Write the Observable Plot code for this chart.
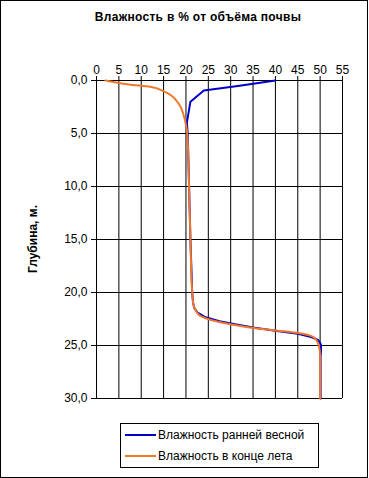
<!DOCTYPE html>
<html>
<head>
<meta charset="utf-8">
<script src="https://cdn.jsdelivr.net/npm/d3@7"></script>
<script src="https://cdn.jsdelivr.net/npm/@observablehq/plot@0.6"></script>
<style>
  html, body { margin: 0; padding: 0; background: #fff; }
  #wrap { position: relative; width: 369px; height: 478px; font-family: "Liberation Sans", Arial, sans-serif; }
  #border { position: absolute; left: 0; top: 0; width: 366px; height: 476px; border: 1px solid #000; pointer-events: none; }
  #title { position: absolute; left: 0; width: 396px; top: 10px; text-align: center; font-weight: bold; font-size: 12px; letter-spacing: 0.3px; color: #000; }
  #ylab { position: absolute; left: 33px; top: 239px; transform: translate(-50%, -50%) rotate(-90deg); font-weight: bold; font-size: 12px; white-space: nowrap; }
  #legend { position: absolute; left: 120px; top: 423px; width: 197px; height: 43px; border: 1px solid #000; background: #fff; font-size: 12px; }
  .li { position: absolute; left: 4px; height: 14px; display: flex; align-items: center; white-space: nowrap; }
  .sw { width: 31px; height: 2px; margin-right: 2px; }
  svg { position: absolute; left: 0; top: 0; }
</style>
</head>
<body>
<div id="wrap">
  <div id="chart"></div>
  <div id="title">Влажность в % от объёма почвы</div>
  <div id="ylab">Глубина, м.</div>
  <div id="legend">
    <div class="li" style="top:4px"><div class="sw" style="background:#0000c8"></div>Влажность ранней весной</div>
    <div class="li" style="top:25px"><div class="sw" style="background:#f07828"></div>Влажность в конце лета</div>
  </div>
  <div id="border"></div>
</div>
<script>
const xTicks = [0, 5, 10, 15, 20, 25, 30, 35, 40, 45, 50, 55];
const yTicks = [0, 5, 10, 15, 20, 25, 30];

const springDepth = [0, 0.5, 0.95, 2.0, 4.0, 5, 10, 15, 20, 21, 21.5, 21.9, 22.3, 22.7, 23, 23.3, 23.6, 23.9, 24.2, 24.5, 24.9, 25.5, 26, 30];
const springMoist = [40, 32, 24, 21, 20.2, 20.4, 20.7, 21, 21.4, 21.6, 21.9, 22.6, 24.2, 27.5, 31, 35, 40, 45, 48, 49.6, 50.2, 50.2, 50.1, 50.1];

const summerDepth = [0, 0.4, 0.6, 1.1, 2.2, 3.3, 4.4, 5, 10, 15, 20, 21.2, 21.7, 22.2, 23, 23.4, 23.8, 24.2, 24.6, 25, 26, 30];
const summerMoist = [2, 7.6, 12, 15.4, 18.4, 19.5, 20.1, 20.3, 20.7, 21, 21.4, 21.7, 22.2, 23.2, 29.9, 35.9, 44.8, 48.5, 49.3, 49.7, 50, 50];

const spring = springDepth.map((d, i) => ({depth: d, moist: springMoist[i]}));
const summer = summerDepth.map((d, i) => ({depth: d, moist: summerMoist[i]}));

const fmt = d => d.toFixed(1).replace(".", ",");

const chart = Plot.plot({
  width: 369,
  height: 478,
  marginTop: 80,
  marginLeft: 96,
  marginRight: 27,
  marginBottom: 80,
  style: {fontFamily: "'Liberation Sans', Arial, sans-serif", fontSize: "12px", color: "#000", background: "transparent"},
  x: {domain: [0, 55]},
  y: {domain: [0, 30], reverse: true},
  marks: [
    Plot.gridX(xTicks, {stroke: "#000", strokeOpacity: 1}),
    Plot.gridY(yTicks, {stroke: "#000", strokeOpacity: 1}),
    Plot.axisX(xTicks, {anchor: "top", tickSize: 5, tickPadding: 2, label: null, fontSize: 12, stroke: "#000"}),
    Plot.axisY(yTicks, {anchor: "left", tickSize: 5, tickPadding: 4, label: null, tickFormat: fmt, fontSize: 12}),
    Plot.ruleX([0], {stroke: "#000"}),
    Plot.ruleY([0], {stroke: "#000"}),
    Plot.line(spring, {x: "moist", y: "depth", stroke: "#0000c8", strokeWidth: 2, curve: "linear"}),
    Plot.line(summer, {x: "moist", y: "depth", stroke: "#f07828", strokeWidth: 2, curve: "monotone-y"})
  ]
});
document.getElementById("chart").appendChild(chart);
</script>
</body>
</html>
